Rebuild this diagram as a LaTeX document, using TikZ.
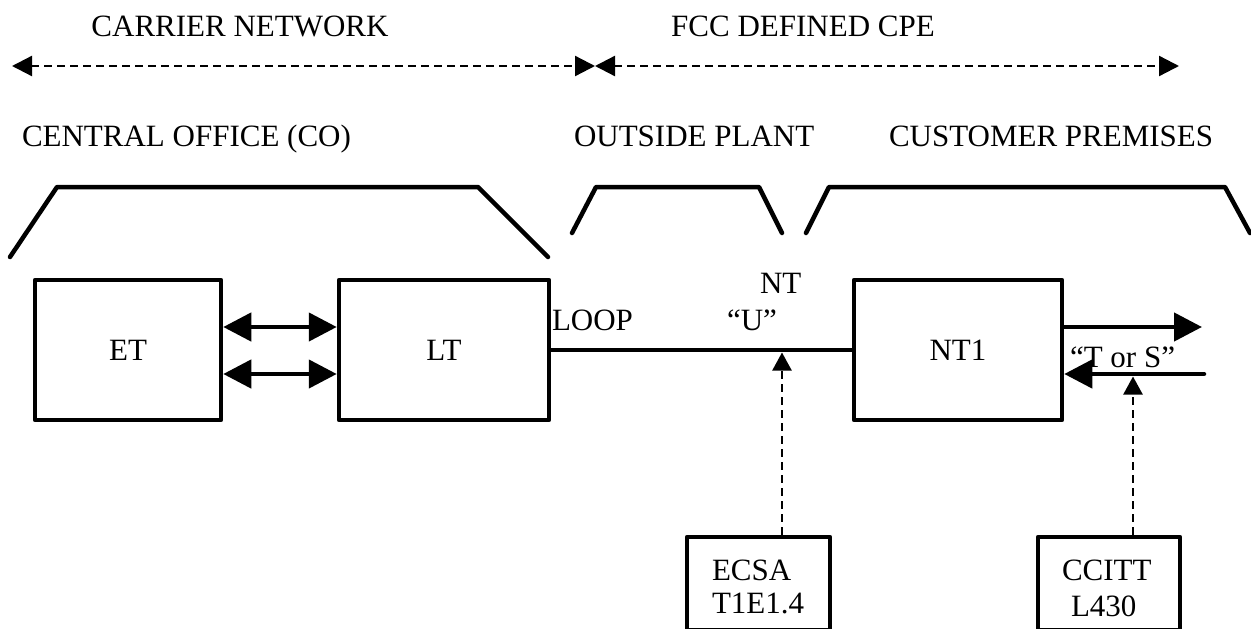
\documentclass[tikz,border=0pt]{standalone}
\usepackage{fontspec}
\setmainfont{Liberation Serif}
\usetikzlibrary{arrows.meta}
\begin{document}
\begin{tikzpicture}[x=1pt,y=-1pt,
  lbl/.style={inner sep=0pt, outer sep=0pt, anchor=base west, font=\fontsize{31}{35}\selectfont},
  blk/.style={draw, line width=4.5pt, line join=round, minimum height=140pt, inner sep=0pt, font=\fontsize{31}{35}\selectfont},
  refbox/.style={draw, line width=4.5pt, line join=round, minimum width=143pt, minimum height=93pt, inner sep=0pt},
  heavy/.style={line width=4.5pt, line cap=round, line join=round},
  span/.style={line width=2.3pt, dash pattern=on 8pt off 5pt, {Triangle[length=20pt,width=20pt]}-{Triangle[length=20pt,width=20pt]}},
  pointer/.style={line width=2.2pt, dash pattern=on 8pt off 5pt, -{Triangle[length=18pt,width=19pt]}},
  bigtip/.tip={Triangle[length=28pt,width=28pt]}
]
\useasboundingbox (0,0) rectangle (1251,629);

% headings
\node[lbl, anchor=base] (carrier) at (240,36) {CARRIER NETWORK};
\node[lbl, anchor=base] (fcc) at (803,36) {FCC DEFINED CPE};
\node[lbl] (co) at (22,146) {CENTRAL OFFICE (CO)};
\node[lbl] (op) at (574,146) {OUTSIDE PLANT};
\node[lbl] (cp) at (889,146) {CUSTOMER PREMISES};

% span arrows
\coordinate (cnL) at (12,66);
\coordinate (mid) at (595,66);
\coordinate (cpR) at (1179,66);
\draw[span] (cnL) -- (mid);
\draw[span] (mid) -- (cpR);

% brackets
\draw[heavy] (10,257) -- (57,187) -- (478,187) -- (548,257);
\draw[heavy] (572,233) -- (596,187) -- (759,187) -- (782,233);
\draw[heavy] (806,233) -- (829,187) -- (1225,187) -- (1250,233);

% blocks
\node[blk, minimum width=186pt] (ET) at (128,350) {ET};
\node[blk, minimum width=210pt] (LT) at (444,350) {LT};
\node[blk, minimum width=208pt] (NT1) at (958,350) {NT1};

\node[refbox] (ecsa) at (758.5,583.5) {};
\node[refbox, minimum width=142pt] (ccitt) at (1109,583.5) {};

% connectors
\draw[heavy, bigtip-bigtip] ([yshift=23pt]ET.east) -- ([yshift=23pt]LT.west);
\draw[heavy, bigtip-bigtip] ([yshift=-24pt]ET.east) -- ([yshift=-24pt]LT.west);
\draw[heavy] (LT.east) -- (NT1.west);

\coordinate (outEnd) at (1202,327);
\coordinate (inStart) at (1204,374);
\draw[heavy, -bigtip] ([yshift=23pt]NT1.east) -- (outEnd);
\draw[heavy, -bigtip] (inStart) -- ([yshift=-24pt]NT1.east);

\coordinate (uTip) at (782,352.5);
\coordinate (tsTip) at (1133,376.5);
\draw[pointer] (uTip |- ecsa.north) -- (uTip);
\draw[pointer] (tsTip |- ccitt.north) -- (tsTip);

% labels
\node[lbl] (loop) at (552,330) {LOOP};
\node[lbl] (nt) at (760,293) {NT};
\node[lbl] (u) at (727,330) {“U”};
\node[lbl] (ts) at (1070,367) {“T or S”};
\node[lbl] (ecsa1) at (712,580) {ECSA};
\node[lbl] (ecsa2) at (712,613) {T1E1.4};
\node[lbl] (cc1) at (1062,580) {CCITT};
\node[lbl] (cc2) at (1071,616) {L430};
\end{tikzpicture}
\end{document}
